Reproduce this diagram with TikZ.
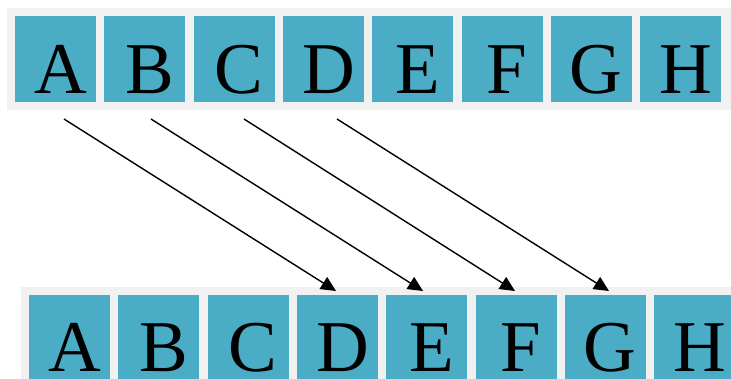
\documentclass[tikz,border=0pt]{standalone}
\usepackage{fontspec}
\setmainfont{Liberation Serif}
\usetikzlibrary{arrows.meta}
\definecolor{cell}{RGB}{75,172,198}
\definecolor{strip}{RGB}{241,241,241}
\tikzset{
  cellbox/.style={fill=cell, draw=none},
  letter/.style={anchor=base, inner sep=0pt, font=\fontsize{73}{73}\selectfont},
  movearrow/.style={line width=1.4pt, -{Triangle[length=15pt,width=14pt]}}
}
\begin{document}
\begin{tikzpicture}[x=1pt,y=-1pt]
\useasboundingbox (0,0) rectangle (731,378);
\clip (0,0) rectangle (731,378);
% strips
\fill[strip] (7,8) rectangle (731,110);
\fill[strip] (21,287) rectangle (740,390);
% top row
\foreach \L [count=\i from 0] in {A,B,C,D,E,F,G,H}{
  \pgfmathsetmacro{\xa}{15+89.3*\i}
  \fill[cellbox] (\xa,16) rectangle ++(81,86);
  \node[letter] (t\L) at (\xa+45.5,93) {\L};
}
% bottom row
\foreach \L [count=\i from 0] in {A,B,C,D,E,F,G,H}{
  \pgfmathsetmacro{\xa}{29+89.3*\i}
  \fill[cellbox] (\xa,295) rectangle ++(81,86);
  \node[letter] (b\L) at (\xa+45.5,371.5) {\L};
}
% arrow endpoints
\coordinate (s1) at (64,119);
\coordinate (s2) at (151,119);
\coordinate (s3) at (244,119);
\coordinate (s4) at (337,119);
\coordinate (e1) at (336,291);
\coordinate (e2) at (423,291);
\coordinate (e3) at (515,291);
\coordinate (e4) at (609,291);
\foreach \k in {1,2,3,4}{
  \draw[movearrow] (s\k) -- (e\k);
}
\end{tikzpicture}
\end{document}
